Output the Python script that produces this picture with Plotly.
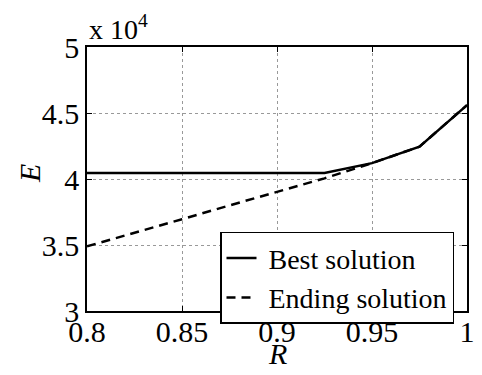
import numpy as np
import plotly.graph_objects as go

# Ratio R and objective E for the two solutions
R = [0.8, 0.825, 0.85, 0.875, 0.9, 0.925, 0.95, 0.975, 1.0]
E_best = [40450, 40450, 40450, 40450, 40450, 40450, 41200, 42450, 45600]
E_end = [34900, 35900, 36950, 38000, 39040, 40050, 41200, 42450, 45600]
series_names = ["Best solution", "Ending solution"]

xticks = [0.8, 0.85, 0.9, 0.95, 1.0]
xticklabels = ["0.8", "0.85", "0.9", "0.95", "1"]
yticks = [3, 3.5, 4, 4.5, 5]
yticklabels = ["3", "3.5", "4", "4.5", "5"]

scale = 1e4
FONT = "Times New Roman, Liberation Serif, Tinos, DejaVu Serif"

fig = go.Figure()
fig.add_trace(go.Scatter(
    x=R, y=np.array(E_best) / scale, mode="lines",
    name="\u00a0" + series_names[0],
    line=dict(color="black", width=2.5),
))
fig.add_trace(go.Scatter(
    x=R, y=np.array(E_end) / scale, mode="lines",
    name="\u00a0" + series_names[1],
    line=dict(color="black", width=2.5, dash="9px,6px"),
))

axis_common = dict(
    showline=True, linecolor="black", linewidth=1.5, mirror="ticks",
    ticks="inside", ticklen=5, tickcolor="black",
    showgrid=True, gridcolor="#999999", griddash="dot", gridwidth=1,
    zeroline=False, tickfont=dict(family=FONT, size=30, color="black"),
)

fig.update_layout(
    width=482, height=375,
    margin=dict(l=87, r=7, t=47, b=64),
    paper_bgcolor="white", plot_bgcolor="white",
    font=dict(family=FONT),
    xaxis=dict(range=[0.8, 1.0], tickvals=xticks, ticktext=xticklabels,
               ticklabelstandoff=-7, **axis_common),
    yaxis=dict(range=[3, 5], tickvals=yticks, ticktext=yticklabels,
               ticklabelstandoff=0, **axis_common),
    showlegend=True,
    legend=dict(
        x=0.35, y=0.30, xanchor="left", yanchor="top",
        bgcolor="white", bordercolor="black", borderwidth=1.5,
        font=dict(family=FONT, size=28, color="black"),
        tracegroupgap=0, itemwidth=30,
    ),
    annotations=[
        dict(text="x 10<sup>4</sup>", xref="paper", yref="paper",
             x=0.0, y=1.0, xanchor="left", yanchor="bottom", showarrow=False,
             font=dict(family=FONT, size=28, color="black")),
        dict(text="<i>E</i>", xref="paper", yref="paper",
             x=-0.152, y=0.52, xanchor="center", yanchor="middle", showarrow=False,
             textangle=-90, font=dict(family=FONT, size=30, color="black")),
        dict(text="<i>R</i>", xref="paper", yref="paper",
             x=0.5, y=-0.16, xanchor="center", yanchor="middle", showarrow=False,
             font=dict(family=FONT, size=30, color="black")),
    ],
)

fig.write_html("out.html")
